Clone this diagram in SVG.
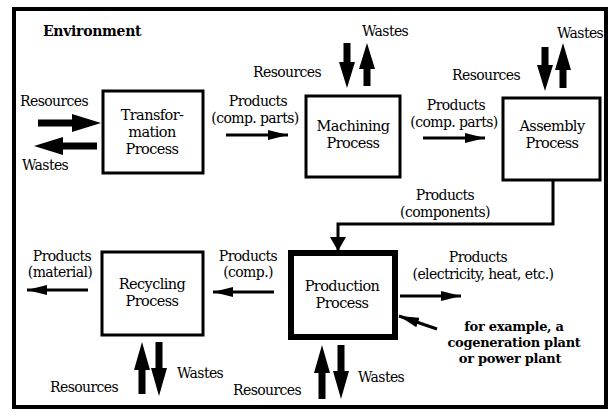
<svg xmlns="http://www.w3.org/2000/svg" width="611" height="416" viewBox="0 0 611 416">
<defs>
<style>
.t{font-family:"DejaVu Serif","Liberation Serif",serif;font-size:14px;fill:#000;letter-spacing:-0.6px}
.p{font-family:"DejaVu Serif","Liberation Serif",serif;font-size:14.5px;fill:#000;letter-spacing:-0.6px;text-anchor:middle}
.b{font-family:"DejaVu Serif","Liberation Serif",serif;font-size:13px;font-weight:bold;fill:#000;letter-spacing:-0.3px}
.m{text-anchor:middle}
.box{fill:#fff;stroke:#000;stroke-width:3}
.thick{fill:#000}
.line{stroke:#000;stroke-width:3;fill:none}
</style>
<marker id="ah" viewBox="0 0 20 10" refX="20" refY="5" markerWidth="20" markerHeight="10" markerUnits="userSpaceOnUse" orient="auto">
<path d="M0,0 L20,5 L0,10 Z" fill="#000"/>
</marker>
<marker id="ah2" viewBox="0 0 14 16" refX="14" refY="8" markerWidth="14" markerHeight="16" markerUnits="userSpaceOnUse" orient="auto">
<path d="M0,0 L14,8 L0,16 Z" fill="#000"/>
</marker>
</defs>
<rect width="611" height="416" fill="#fff"/>
<rect x="14" y="9" width="592" height="398" fill="none" stroke="#000" stroke-width="4"/>
<text class="b" x="43" y="36" style="font-size:14px">Environment</text>

<g id="transformation">
<rect class="box" x="103" y="91" width="100" height="82"/>
<text class="p" x="152" y="120">Transfor-</text>
<text class="p" x="152" y="137">mation</text>
<text class="p" x="152" y="154">Process</text>
</g>
<g id="machining">
<rect class="box" x="306" y="96" width="94" height="81"/>
<text class="p" x="353" y="131">Machining</text>
<text class="p" x="353" y="148">Process</text>
</g>
<g id="assembly">
<rect class="box" x="503" y="98" width="97" height="82"/>
<text class="p" x="552" y="131">Assembly</text>
<text class="p" x="552" y="148">Process</text>
</g>
<g id="recycling">
<rect class="box" x="102" y="252" width="101" height="83"/>
<text class="p" x="152" y="289">Recycling</text>
<text class="p" x="152" y="306">Process</text>
</g>
<g id="production">
<rect class="box" x="291" y="253" width="104" height="84" style="stroke-width:6"/>
<text class="p" x="342" y="291">Production</text>
<text class="p" x="342" y="308">Process</text>
</g>

<g id="connectors">
<polygon class="thick" points="38,119.5 72,119.5 72,114 101,123 72,132 72,126.5 38,126.5"/>
<polygon class="thick" points="97,142.5 63,142.5 63,137 34,146 63,155 63,149.5 97,149.5"/>
<polygon class="thick" points="343.5,43 350.5,43 350.5,62 355,62 347,88 339,62 343.5,62"/>
<polygon class="thick" points="363.5,86 370.5,86 370.5,69 375,69 367,43 359,69 363.5,69"/>
<polygon class="thick" points="541.5,47 548.5,47 548.5,65 553,65 545,91 537,65 541.5,65"/>
<polygon class="thick" points="559.5,88 566.5,88 566.5,70 571,70 563,43 555,70 559.5,70"/>
<polygon class="thick" points="138.5,394 145.5,394 145.5,370 150,370 142,342 134,370 138.5,370"/>
<polygon class="thick" points="155.5,342 162.5,342 162.5,368 167,368 159,396 151,368 155.5,368"/>
<polygon class="thick" points="318.5,399 325.5,399 325.5,373 330,373 322,345 314,373 318.5,373"/>
<polygon class="thick" points="337.5,345 344.5,345 344.5,371 349,371 341,399 333,371 337.5,371"/>
<line class="line" x1="226" y1="135" x2="288" y2="135" marker-end="url(#ah)"/>
<line class="line" x1="423" y1="138" x2="485" y2="138" marker-end="url(#ah)"/>
<line class="line" x1="274" y1="292" x2="213" y2="292" marker-end="url(#ah)"/>
<line class="line" x1="88" y1="290" x2="27" y2="290" marker-end="url(#ah)"/>
<line class="line" x1="400" y1="296" x2="461" y2="296" marker-end="url(#ah)"/>
<line class="line" x1="437" y1="329" x2="399" y2="316" marker-end="url(#ah)"/>
<polyline class="line" points="553,180 553,224 338,224 338,251" marker-end="url(#ah2)"/>
</g>

<g id="labels">
<text class="t" x="20" y="106">Resources</text>
<text class="t" x="22" y="170">Wastes</text>
<text class="t m" x="258" y="106">Products</text>
<text class="t m" x="255" y="123">(comp. parts)</text>
<text class="t" x="253" y="77">Resources</text>
<text class="t" x="362" y="36">Wastes</text>
<text class="t m" x="456" y="110">Products</text>
<text class="t m" x="454" y="127">(comp. parts)</text>
<text class="t" x="452" y="80">Resources</text>
<text class="t" x="557" y="38">Wastes</text>
<text class="t m" x="445" y="200">Products</text>
<text class="t m" x="445" y="217">(components)</text>
<text class="t m" x="62" y="261">Products</text>
<text class="t m" x="60" y="277">(material)</text>
<text class="t m" x="248" y="261">Products</text>
<text class="t m" x="248" y="277">(comp.)</text>
<text class="t m" x="478" y="262">Products</text>
<text class="t m" x="483" y="279">(electricity, heat, etc.)</text>
<text class="b m" x="514" y="331">for example, a</text>
<text class="b m" x="514" y="347">cogeneration plant</text>
<text class="b m" x="510" y="363">or power plant</text>
<text class="t" x="50" y="392">Resources</text>
<text class="t" x="177" y="378">Wastes</text>
<text class="t" x="233" y="395">Resources</text>
<text class="t" x="358" y="382">Wastes</text>
</g>
</svg>
